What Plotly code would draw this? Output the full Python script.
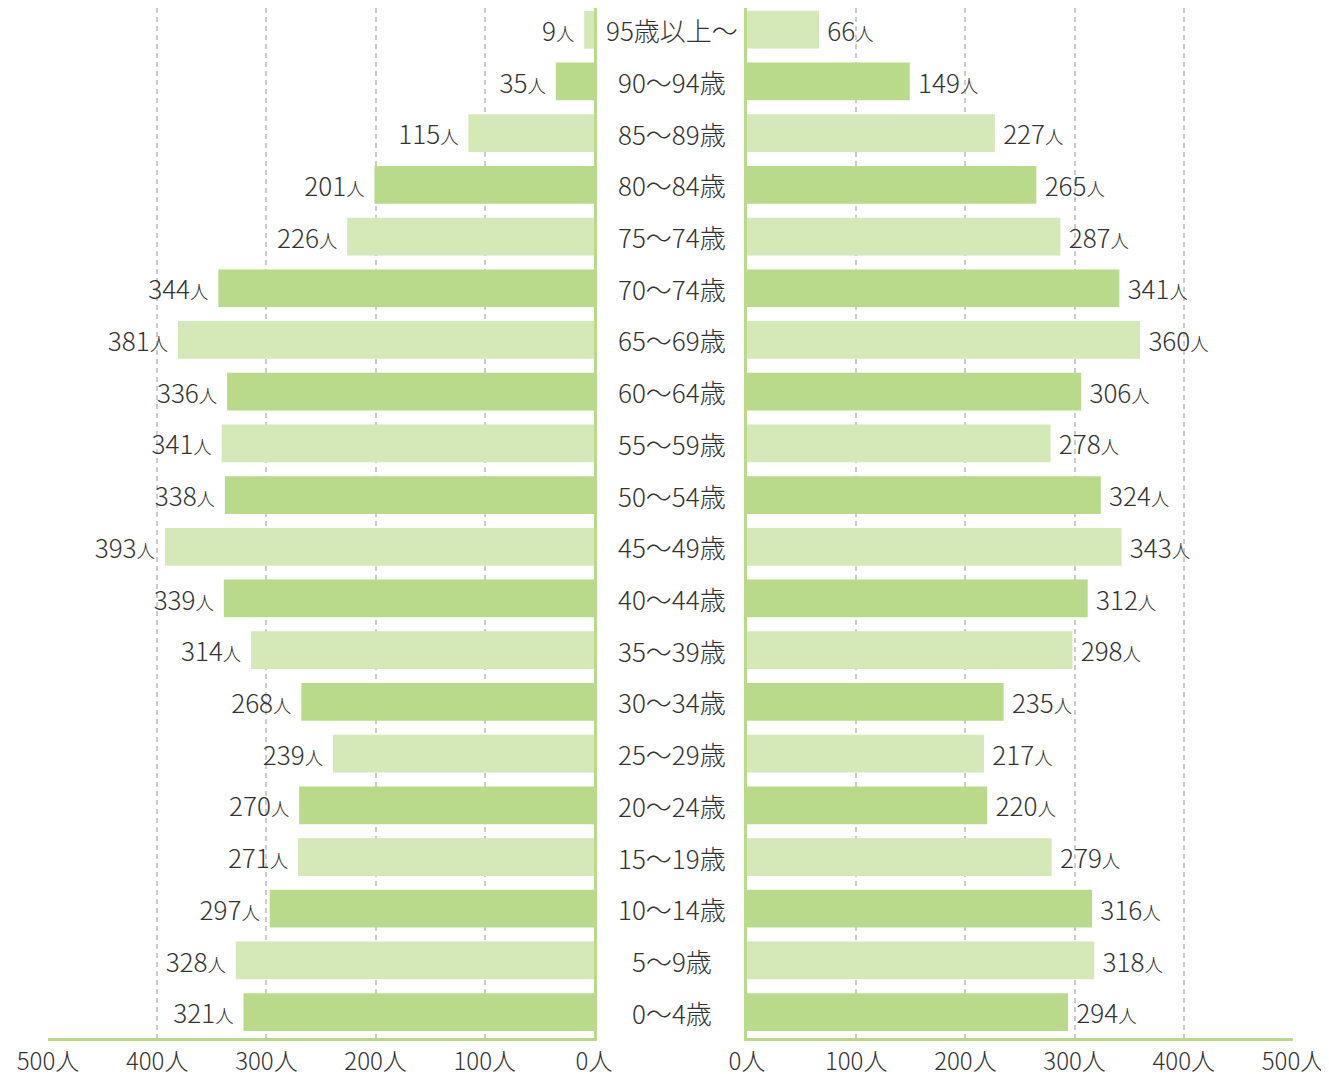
import plotly.graph_objects as go

ages = ["0〜4歳", "5〜9歳", "10〜14歳", "15〜19歳", "20〜24歳", "25〜29歳", "30〜34歳",
        "35〜39歳", "40〜44歳", "45〜49歳", "50〜54歳", "55〜59歳", "60〜64歳", "65〜69歳",
        "70〜74歳", "75〜74歳", "80〜84歳", "85〜89歳", "90〜94歳", "95歳以上〜"]
left_values = [321, 328, 297, 271, 270, 239, 268, 314, 339, 393, 338, 341, 336, 381,
               344, 226, 201, 115, 35, 9]
right_values = [294, 318, 316, 279, 220, 217, 235, 298, 312, 343, 324, 278, 306, 360,
                341, 287, 265, 227, 149, 66]
tick_vals = [0, 100, 200, 300, 400, 500]
tick_text = ["0人", "100人", "200人", "300人", "400人", "500人"]

DARK = "#b9da8b"
LIGHT = "#d4e8b8"
AXIS = "#b9da8b"
TXT = "#333333"
colors = [DARK if i % 2 == 0 else LIGHT for i in range(len(ages))]
FONT = "Noto Sans CJK JP"
OFF = 8  # page body margin
W, H = 1329 - OFF, 1074 - OFF

def label_left(v):
    return f"{v}<span style='font-size:19px'>人</span>\u2009\u200a"

def label_right(v):
    return f"\u2009{v}<span style='font-size:19px'>人</span>"

fig = go.Figure()
fig.add_trace(go.Bar(
    y=ages, x=left_values, orientation="h", xaxis="x", yaxis="y",
    marker=dict(color=colors, line=dict(width=0)),
    text=[label_left(v) for v in left_values], textposition="outside",
    textfont=dict(size=27, color=TXT, family=FONT, weight=300),
    cliponaxis=False, hoverinfo="skip", showlegend=False,
))
fig.add_trace(go.Bar(
    y=ages, x=right_values, orientation="h", xaxis="x2", yaxis="y2",
    marker=dict(color=colors, line=dict(width=0)),
    text=[label_right(v) for v in right_values], textposition="outside",
    textfont=dict(size=27, color=TXT, family=FONT, weight=300),
    cliponaxis=False, hoverinfo="skip", showlegend=False,
))

def xaxis(domain, rng, anchor):
    return dict(
        domain=domain, range=rng, autorange=False, anchor=anchor,
        tickvals=tick_vals, ticktext=tick_text,
        showgrid=True, gridcolor="#cccccc", griddash="5px,4px", gridwidth=1.5,
        showline=True, linecolor=AXIS, linewidth=3, zeroline=False,
        ticks="", tickfont=dict(size=24, color=TXT, family=FONT, weight=300),
        ticklabelstandoff=0,
        layer="above traces", fixedrange=True, automargin=False,
    )

yaxis_common = dict(
    categoryorder="array", categoryarray=ages, showticklabels=False,
    showgrid=False, showline=True, linecolor=AXIS, linewidth=3, ticks="",
    zeroline=False, range=[-0.5, 19.42], autorange=False, automargin=False,
)

plot_bottom = 1038 - OFF
fig.update_layout(
    width=W, height=H,
    margin=dict(l=0, r=0, t=0, b=H - plot_bottom, autoexpand=False),
    paper_bgcolor="white", plot_bgcolor="white",
    bargap=0.27,
    font=dict(family=FONT, color=TXT),
    xaxis=xaxis([(48 - OFF) / W, (594 - OFF) / W], [500, 0], "y"),
    xaxis2=xaxis([(747 - OFF) / W, (1293 - OFF) / W], [0, 500], "y2"),
    yaxis=dict(anchor="x", side="right", **yaxis_common),
    yaxis2=dict(anchor="x2", side="left", **yaxis_common),
)

for a in ages:
    fig.add_annotation(
        x=(672 - OFF) / W, xref="paper", y=a, yref="y", text=a, showarrow=False,
        font=dict(size=26, color=TXT, family=FONT, weight=300), xanchor="center",
    )

fig.write_html("out.html")
